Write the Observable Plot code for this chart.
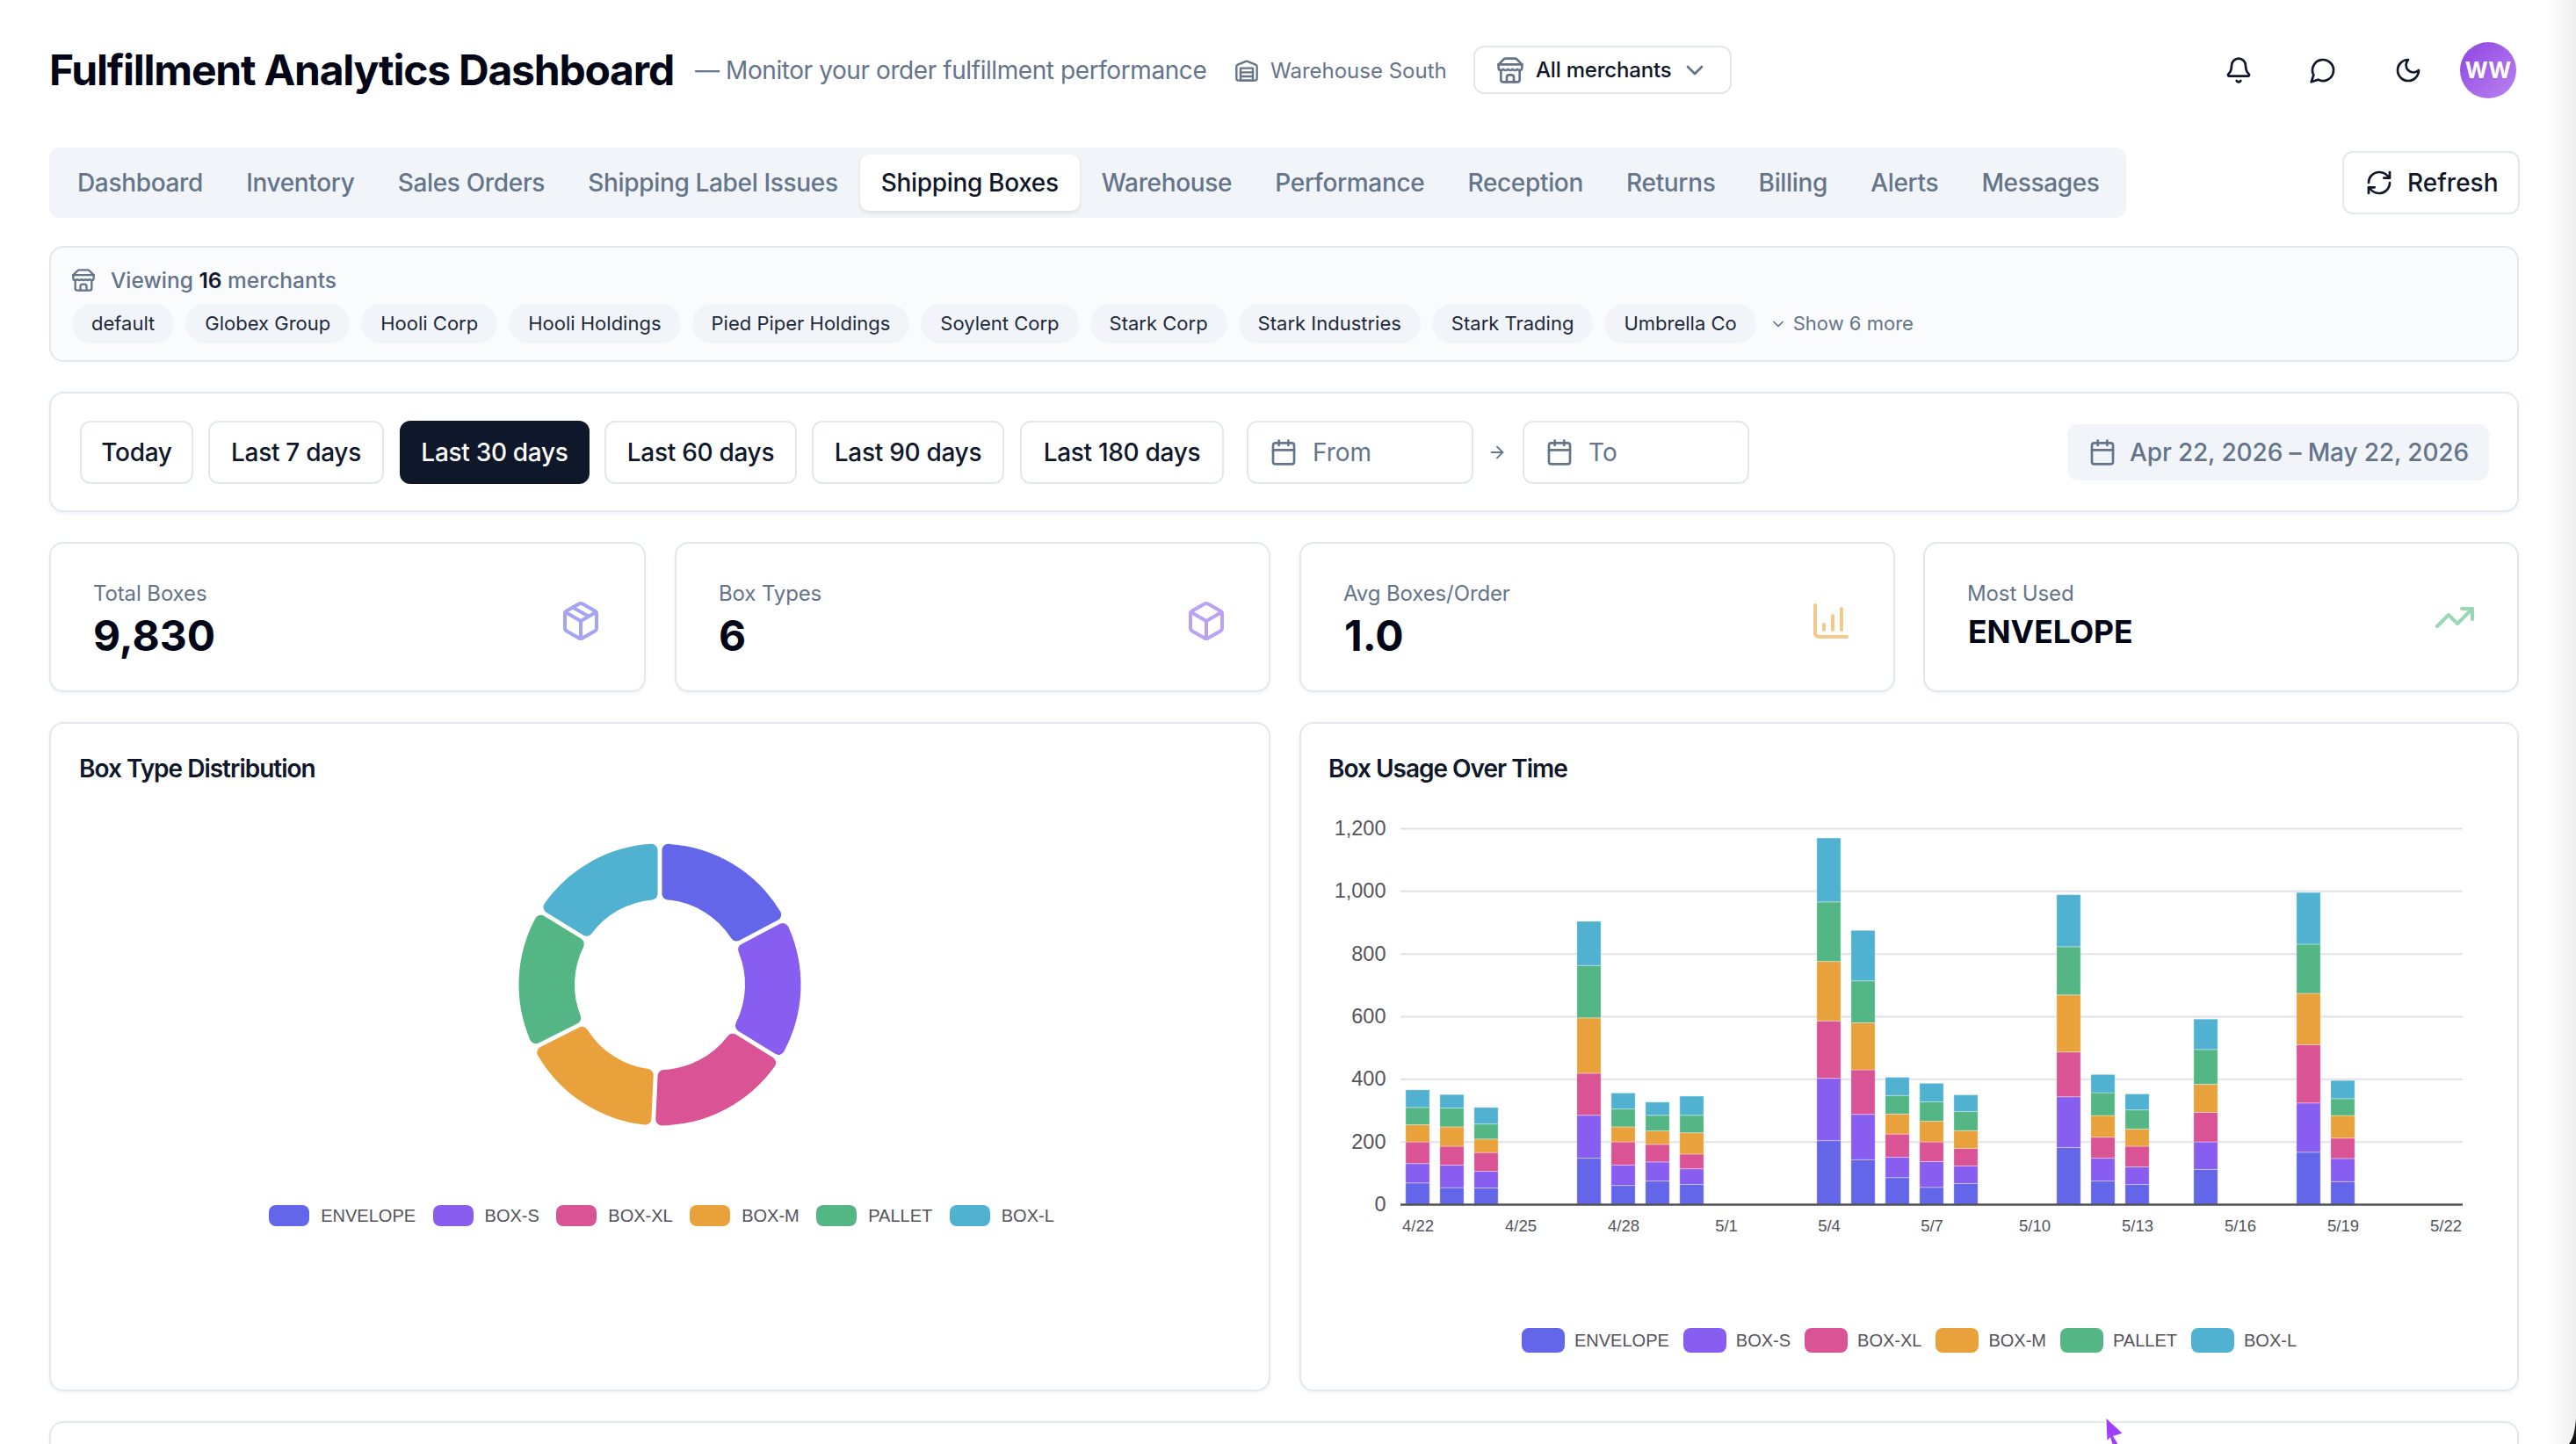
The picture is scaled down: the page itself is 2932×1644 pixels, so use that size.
<!DOCTYPE html>
<html><head><meta charset="utf-8">
<script src="https://cdn.jsdelivr.net/npm/d3@7"></script>
<script src="https://cdn.jsdelivr.net/npm/@observablehq/plot@0.6"></script>
<style>
html,body{margin:0;padding:0;background:#fff;width:2932px;height:1644px;overflow:hidden;font-family:Inter,sans-serif;color:#0f172a}
.abs{position:absolute;box-sizing:border-box}
.row{display:flex;align-items:center}
.card{background:#fff;border:2px solid #e2e8f0;border-radius:16px;box-shadow:0 2px 4px rgba(15,23,42,.05)}
svg.ic{fill:none;stroke:currentColor;stroke-width:2;stroke-linecap:round;stroke-linejoin:round;flex:none}
#tabs div{padding:0 24px;height:64px;line-height:64px;font-size:28px;letter-spacing:-.34px;font-weight:500;color:#64748b;border-radius:10px;margin-right:1.2px;white-space:nowrap}
#tabs div.on{background:#fff;color:#0f172a;box-shadow:0 2px 4px rgba(15,23,42,.1)}
#chips span{background:#f1f5f9;border-radius:23px;height:45px;line-height:45px;padding:0 22px;font-size:22px;color:#1e293b;margin-right:13px;white-space:nowrap}
#ranges div{position:absolute;top:0;height:72px;line-height:68px;box-sizing:border-box;border:2px solid #e2e8f0;border-radius:12px;text-align:center;font-size:28px;letter-spacing:-.3px;font-weight:500;color:#0f172a;white-space:nowrap}
#ranges div.on{background:#0f172a;border-color:#0f172a;color:#fff}
.lab{font-size:24px;letter-spacing:-.12px;color:#64748b}
.val{font-size:48px;font-weight:700;color:#020617;line-height:1}
.ctitle{font-size:28px;font-weight:600;color:#0f172a;letter-spacing:-1px}
.lg{display:flex;justify-content:center;font-family:"Liberation Sans",sans-serif;font-size:20px;color:#54545c}
.lg .it{display:flex;align-items:center}
.lg i{display:block;border-radius:8px}
</style></head><body>
<script>
// ---- data ----
const boxTypes = ["ENVELOPE","BOX-S","BOX-XL","BOX-M","PALLET","BOX-L"];
const boxColors = ["#6366e8","#875eef","#da5395","#e9a13b","#54b685","#50b1d1"];
const boxTotals = [1700,1628,1660,1657,1590,1595];
const allDays = ["4/22","4/23","4/24","4/25","4/26","4/27","4/28","4/29","4/30","5/1","5/2","5/3","5/4","5/5","5/6","5/7","5/8","5/9","5/10","5/11","5/12","5/13","5/14","5/15","5/16","5/17","5/18","5/19","5/20","5/21","5/22"];
const dayTicks = ["4/22","4/25","4/28","5/1","5/4","5/7","5/10","5/13","5/16","5/19","5/22"];
const yTicks = [0,200,400,600,800,1000,1200];
const activeDays = ["4/22","4/23","4/24","4/27","4/28","4/29","4/30","5/4","5/5","5/6","5/7","5/8","5/11","5/12","5/13","5/15","5/18","5/19"];
const envelope = [68,53,52,147,60,74,63,203,142,85,54,66,181,74,63,111,166,72];
const boxS     = [62,72,53,137,65,61,50,199,145,65,82,56,162,73,56,88,157,74];
const boxXL    = [69,60,60,134,74,56,47,183,142,74,63,56,143,67,66,94,186,65];
const boxM     = [55,62,43,177,48,43,68,190,150,64,66,57,182,69,55,90,164,72];
const pallet   = [55,60,48,167,57,50,56,190,134,59,62,61,154,73,61,111,157,54];
const boxL     = [56,43,53,141,51,42,61,204,161,58,59,53,166,58,51,97,165,58];
const seriesValues = [envelope,boxS,boxXL,boxM,pallet,boxL];
const tabNames = ["Dashboard","Inventory","Sales Orders","Shipping Label Issues","Shipping Boxes","Warehouse","Performance","Reception","Returns","Billing","Alerts","Messages"];
const merchants = ["default","Globex Group","Hooli Corp","Hooli Holdings","Pied Piper Holdings","Soylent Corp","Stark Corp","Stark Industries","Stark Trading","Umbrella Co"];
const rangeNames = ["Today","Last 7 days","Last 30 days","Last 60 days","Last 90 days","Last 180 days"];
const statLabels = ["Total Boxes","Box Types","Avg Boxes/Order","Most Used"];
const statValues = ["9,830","6","1.0","ENVELOPE"];

// ---- icons ----
const I = {
 store:'<path d="m2 7 4.41-4.41A2 2 0 0 1 7.83 2h8.34a2 2 0 0 1 1.42.59L22 7"/><path d="M4 12v8a2 2 0 0 0 2 2h12a2 2 0 0 0 2-2v-8"/><path d="M15 22v-4a2 2 0 0 0-2-2h-2a2 2 0 0 0-2 2v4"/><path d="M2 7h20"/><path d="M22 7v3a2 2 0 0 1-2 2 2.7 2.7 0 0 1-1.59-.63.7.7 0 0 0-.82 0A2.7 2.7 0 0 1 16 12a2.7 2.7 0 0 1-1.59-.63.7.7 0 0 0-.82 0A2.7 2.7 0 0 1 12 12a2.7 2.7 0 0 1-1.59-.63.7.7 0 0 0-.82 0A2.7 2.7 0 0 1 8 12a2.7 2.7 0 0 1-1.59-.63.7.7 0 0 0-.82 0A2.7 2.7 0 0 1 4 12a2 2 0 0 1-2-2V7"/>',
 wh:'<path d="M22 8.35V20a2 2 0 0 1-2 2H4a2 2 0 0 1-2-2V8.35A2 2 0 0 1 3.26 6.5l8-3.2a2 2 0 0 1 1.48 0l8 3.2A2 2 0 0 1 22 8.35Z"/><path d="M6 18h12"/><path d="M6 14h12"/><rect x="6" y="10" width="12" height="12"/>',
 chev:'<path d="m6 9 6 6 6-6"/>',
 bell:'<path d="M10.27 21a2 2 0 0 0 3.46 0"/><path d="M3.26 15.33A1 1 0 0 0 4 17h16a1 1 0 0 0 .74-1.67C19.41 13.96 18 12.5 18 8A6 6 0 0 0 6 8c0 4.5-1.41 5.96-2.74 7.33"/>',
 msg:'<path d="M7.9 20A9 9 0 1 0 4 16.1L2 22Z"/>',
 moon:'<path d="M12 3a6 6 0 0 0 9 9 9 9 0 1 1-9-9Z"/>',
 refresh:'<path d="M3 12a9 9 0 0 1 9-9 9.75 9.75 0 0 1 6.74 2.74L21 8"/><path d="M21 3v5h-5"/><path d="M21 12a9 9 0 0 1-9 9 9.75 9.75 0 0 1-6.74-2.74L3 16"/><path d="M8 16H3v5"/>',
 cal:'<path d="M8 2v4"/><path d="M16 2v4"/><rect x="3" y="4" width="18" height="18" rx="2"/><path d="M3 10h18"/>',
 arrow:'<path d="M5 12h14"/><path d="m12 5 7 7-7 7"/>',
 pkg:'<path d="M11 21.73a2 2 0 0 0 2 0l7-4A2 2 0 0 0 21 16V8a2 2 0 0 0-1-1.73l-7-4a2 2 0 0 0-2 0l-7 4A2 2 0 0 0 3 8v8a2 2 0 0 0 1 1.73z"/><path d="M12 22V12"/><path d="m3.3 7 8.7 5 8.7-5"/><path d="m7.5 4.27 9 5.15"/>',
 box:'<path d="M21 8a2 2 0 0 0-1-1.73l-7-4a2 2 0 0 0-2 0l-7 4A2 2 0 0 0 3 8v8a2 2 0 0 0 1 1.73l7 4a2 2 0 0 0 2 0l7-4A2 2 0 0 0 21 16Z"/><path d="m3.3 7 8.7 5 8.7-5"/><path d="M12 22V12"/>',
 bars:'<path d="M3 3v16a2 2 0 0 0 2 2h16"/><path d="M8 17v-3"/><path d="M13 17V9"/><path d="M18 17V5"/>',
 trend:'<path d="M16 7h6v6"/><path d="m22 7-8.5 8.5-5-5L2 17"/>'
};
const ic=(n,s,c,w)=>`<svg class="ic" viewBox="0 0 24 24" width="${s}" height="${s}" style="color:${c};stroke-width:${w||2}">${I[n]}</svg>`;
function box(x,y,w,h,cls,html,style){const d=document.createElement('div');d.className='abs '+(cls||'');d.style.cssText=`left:${x}px;top:${y}px;width:${w}px;height:${h}px;`+(style||'');d.innerHTML=html||'';document.body.appendChild(d);return d;}

// ---- header ----
box(56,44,740,70,'row','<span style="font-size:48px;font-weight:700;color:#020617;letter-spacing:-1.23px;white-space:nowrap">Fulfillment Analytics Dashboard</span>');
box(791,50,600,60,'row','<span style="font-size:28px;letter-spacing:-.42px;color:#64748b;white-space:nowrap">— Monitor your order fulfillment performance</span>');
box(1405,50,260,60,'row',ic('wh',28,'#64748b')+'<span style="font-size:24px;color:#64748b;margin-left:13px;white-space:nowrap">Warehouse South</span>');
box(1677,52,294,55,'row',ic('store',32,'#64748b')+'<span style="font-size:24px;letter-spacing:-.2px;color:#0f172a;margin-left:13px;font-weight:500;white-space:nowrap">All merchants</span><span style="margin-left:11px;display:flex">'+ic('chev',32,'#64748b')+'</span>','border:2px solid #e2e8f0;border-radius:12px;padding-left:24px;');
box(2532,63,34,34,'row',ic('bell',32,'#0f172a'));
box(2628,63,34,34,'row',ic('msg',32,'#0f172a'));
box(2725,63,34,34,'row',ic('moon',32,'#0f172a'));
box(2800,48,64,64,'row','<span style="width:100%;text-align:center;color:#fff;font-weight:700;font-size:25px">WW</span>','border-radius:50%;background:linear-gradient(135deg,#8f44e2,#b984f0);');

// ---- tabs ----
box(56,168,2364,80,'row',tabNames.map(t=>`<div class="${t==='Shipping Boxes'?'on':''}">${t}</div>`).join(''),'background:#f1f5f9;border-radius:12px;padding-left:8px;').id='tabs';
box(2666,172,202,72,'row',ic('refresh',32,'#0f172a')+'<span style="font-size:28px;font-weight:500;color:#0f172a;margin-left:16px">Refresh</span>','border:2px solid #e2e8f0;border-radius:12px;padding-left:24px;');

// ---- merchants ----
box(56,280,2811,132,'', '', 'background:#fafbfd;border:2px solid #e2e8f0;border-radius:16px;');
box(81,304,600,30,'row',ic('store',28,'#64748b')+'<span style="font-size:24.5px;color:#64748b;margin-left:17px;font-weight:500;white-space:nowrap">Viewing <b style="color:#0f172a;font-weight:600">16</b> merchants</span>');
box(82,346,2200,45,'row',merchants.map(m=>`<span>${m}</span>`).join('')+'<span id="more" style="background:none;padding:0;color:#64748b;margin-left:2px;display:flex;align-items:center;gap:7px">'+ic('chev',20,'#64748b')+'Show 6 more</span>').id='chips';

// ---- date range ----
box(56,446,2811,137,'card');
const rx=[91,237,455,688,924,1161], rw=[129,200,216,219,219,232];
const rg=box(0,479,0,0); rg.id='ranges';
rg.innerHTML=rangeNames.map((r,i)=>`<div class="${r==='Last 30 days'?'on':''}" style="left:${rx[i]}px;width:${rw[i]}px">${r}</div>`).join('');
box(1419,479,258,72,'row',ic('cal',32,'#64748b')+'<span style="font-size:28px;color:#64748b;margin-left:17px">From</span>','border:2px solid #e2e8f0;border-radius:12px;padding-left:24px;');
box(1693,502,24,26,'row',ic('arrow',22,'#64748b'));
box(1733,479,258,72,'row',ic('cal',32,'#64748b')+'<span style="font-size:28px;color:#64748b;margin-left:17px">To</span>','border:2px solid #e2e8f0;border-radius:12px;padding-left:24px;');
box(2353,483,480,64,'row',ic('cal',32,'#64748b')+'<span style="font-size:28px;letter-spacing:-.14px;font-weight:500;color:#64748b;margin-left:15px;white-space:nowrap">Apr 22, 2026 – May 22, 2026</span>','background:#f1f5f9;border-radius:12px;padding-left:24px;');

// ---- stat cards ----
const sx=[56,768,1479,2189], sw=[679,678,678,678];
const sIcons=[['pkg','#a5a3f4',707],['box','#b9a2f6',707],['bars','#f4c98c',707],['trend','#98d8b6',703]];
statLabels.forEach((l,i)=>{
  box(sx[i],617,sw[i],171,'card');
  box(sx[i]+50,659,400,32,'row',`<span class="lab">${l}</span>`);
  const big=statValues[i]==='ENVELOPE';
  box(sx[i]+50+(i>=2?1:0),big?694:698,500,52,'row',`<span class="val" style="${big?'font-size:35.5px':''}">${statValues[i]}</span>`);
  const s=sIcons[i], cx=sx[i]+605;
  box(cx-24,s[2]-24,48,48,'row',ic(s[0],48,s[1],2));
});

// ---- chart cards ----
box(56,822,1390,762,'card');
box(1479,822,1388,762,'card');
box(90,856,700,38,'row','<span class="ctitle">Box Type Distribution</span>');
box(1512,856,700,38,'row','<span class="ctitle">Box Usage Over Time</span>');
box(56,1618,2811,80,'card');

// ---- donut ----
const slices = boxTypes.map((t,i)=>({type:t,value:boxTotals[i]}));
const donut = Plot.plot({
  width:360,height:360,margin:0,
  color:{domain:boxTypes,range:boxColors},
  marks:[Plot.dot(slices,{frameAnchor:"middle",fill:"type",r:1,render(index,scales,values,dims){
    const g=d3.create("svg:g").attr("transform",`translate(${dims.width/2},${dims.height/2})`);
    const arc=d3.arc().innerRadius(97).outerRadius(160.5).cornerRadius(7).padAngle(0.026);
    const pie=d3.pie().sort(null).value(d=>d.value)(slices);
    g.selectAll("path").data(pie).join("path").attr("d",arc).attr("fill",(d,i)=>values.fill[i]);
    return g.node();
  }})]
});
box(571,941,360,360,'',"").appendChild(donut);

// ---- stacked bars ----
const rows = activeDays.flatMap((d,i)=>boxTypes.map((t,k)=>({date:d,type:t,value:seriesValues[k][i]})));
const bars = Plot.plot({
  width:1340,height:502,marginLeft:94,marginRight:37,marginTop:24,marginBottom:50,
  style:{fontFamily:"'Liberation Sans',sans-serif",background:"transparent",color:"#54545c"},
  x:{type:"band",domain:allDays,paddingInner:0.3,paddingOuter:0.15,round:false,label:null},
  y:{domain:[0,1200],label:null},
  color:{domain:boxTypes,range:boxColors},
  marks:[
    Plot.gridY(yTicks.slice(1),{stroke:"#e1e1e8",strokeOpacity:1,strokeWidth:2}),
    Plot.barY(rows,{x:"date",y:"value",fill:"type",stroke:"#fff",strokeOpacity:.35,strokeWidth:1}),
    Plot.ruleY([0],{stroke:"#4f4f58",strokeWidth:2.5}),
    Plot.axisY({ticks:yTicks,tickSize:0,tickPadding:17,fontSize:23.5,label:null,tickFormat:d3.format(",")}),
    Plot.axisX({ticks:dayTicks,tickSize:0,tickPadding:17,fontSize:18.5,label:null})
  ]
});
box(1500,919,1340,502,'',"").appendChild(bars);

// ---- legends ----
function legend(x,y,w,sw,sh,gapT,gapI){
  box(x,y,w,sh,'lg',boxTypes.map((t,i)=>`<div class="it" style="margin-right:${i<5?gapI:0}px"><i style="width:${sw}px;height:${sh}px;background:${boxColors[i]};margin-right:${gapT}px"></i>${t}</div>`).join(''));
}
legend(253,1372,1000,46,24,13,19.5);
legend(1573,1512,1200,49,28,11,16);

// ---- edge effects ----
box(2896,0,36,1644,'','','background:linear-gradient(90deg,rgba(230,230,230,0),rgba(232,232,232,.7));');
box(0,0,2932,1644,'','<svg width="2932" height="1644" style="position:absolute;left:0;top:0"><path d="M2932 1615 C2931 1628 2929 1638 2924 1644 L2932 1644Z" fill="#111"/><path d="M2397.4 1615 L2415.5 1631.7 L2405 1635 L2411.7 1646 L2405 1646 L2402 1636 L2398.5 1640 Z" fill="#9f3ffb" stroke="#fff" stroke-width="2.5" stroke-linejoin="round" paint-order="stroke"/></svg>','pointer-events:none;');
</script>
</body></html>
